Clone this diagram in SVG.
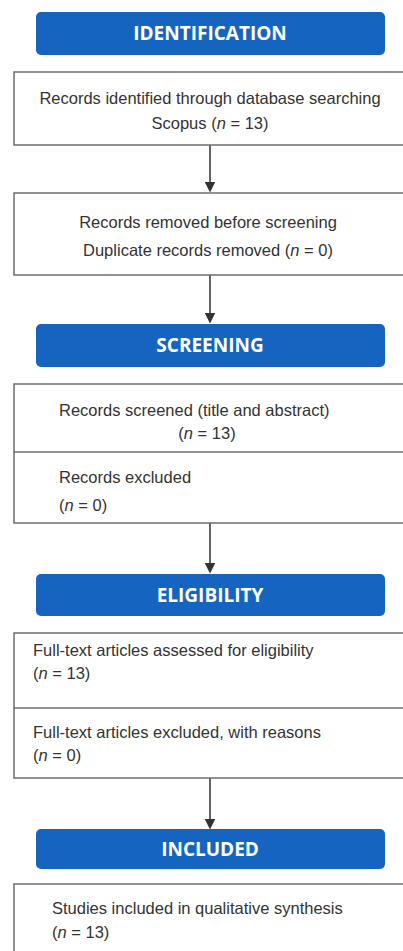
<svg xmlns="http://www.w3.org/2000/svg" width="403" height="951" viewBox="0 0 403 951">
<defs>
<style>
.hdr{fill:#1565c0;}
.ht{fill:#ffffff;font-family:"Open Sans","Liberation Sans",sans-serif;font-weight:bold;font-size:19px;text-anchor:middle;}
.box{fill:#ffffff;stroke:#6e6e6e;stroke-width:1.5;}
.div{stroke:#6e6e6e;stroke-width:1.5;}
.t{fill:#333333;font-family:"Liberation Sans",sans-serif;font-size:16.5px;}
.c{text-anchor:middle;}
.conn{stroke:#333333;stroke-width:1.5;fill:none;marker-end:url(#ah);}
</style>
<marker id="ah" markerWidth="11" markerHeight="11" refX="5.5" refY="5.5" orient="auto" markerUnits="userSpaceOnUse">
<path d="M0,0 L11,5.5 L0,11 z" fill="#333333"/>
</marker>
</defs>
<rect width="403" height="951" fill="#ffffff"/>
<g id="connectors">
<line class="conn" x1="210" y1="145" x2="210" y2="187"/>
<line class="conn" x1="210" y1="275" x2="210" y2="318"/>
<line class="conn" x1="210" y1="523" x2="210" y2="568"/>
<line class="conn" x1="210" y1="778" x2="210" y2="824"/>
</g>
<g id="hdr-identification">
<rect class="hdr" x="36" y="12" width="349" height="43" rx="5"/>
<text class="ht" x="210" y="40">IDENTIFICATION</text>
</g>
<g id="box-identified">
<rect class="box" x="14" y="72" width="400" height="73"/>
<text class="t c" x="210" y="104">Records identified through database searching</text>
<text class="t c" x="210" y="129">Scopus (<tspan font-style="italic">n</tspan> = 13)</text>
</g>
<g id="box-removed">
<rect class="box" x="14" y="193" width="400" height="82"/>
<text class="t c" x="208" y="228">Records removed before screening</text>
<text class="t c" x="208" y="256">Duplicate records removed (<tspan font-style="italic">n</tspan> = 0)</text>
</g>
<g id="hdr-screening">
<rect class="hdr" x="36" y="324" width="349" height="43" rx="5"/>
<text class="ht" x="210" y="352">SCREENING</text>
</g>
<g id="box-screened">
<rect class="box" x="14" y="384" width="400" height="139"/>
<line class="div" x1="14" y1="452" x2="403" y2="452"/>
<text class="t" x="59" y="416">Records screened (title and abstract)</text>
<text class="t c" x="207" y="439">(<tspan font-style="italic">n</tspan> = 13)</text>
<text class="t" x="59" y="483">Records excluded</text>
<text class="t" x="59" y="511">(<tspan font-style="italic">n</tspan> = 0)</text>
</g>
<g id="hdr-eligibility">
<rect class="hdr" x="36" y="574" width="349" height="42" rx="5"/>
<text class="ht" x="210" y="602">ELIGIBILITY</text>
</g>
<g id="box-fulltext">
<rect class="box" x="14" y="633" width="400" height="145"/>
<line class="div" x1="14" y1="708" x2="403" y2="708"/>
<text class="t" x="33" y="656">Full-text articles assessed for eligibility</text>
<text class="t" x="33" y="679">(<tspan font-style="italic">n</tspan> = 13)</text>
<text class="t" x="33" y="738">Full-text articles excluded, with reasons</text>
<text class="t" x="33" y="761">(<tspan font-style="italic">n</tspan> = 0)</text>
</g>
<g id="hdr-included">
<rect class="hdr" x="36" y="829" width="349" height="40" rx="5"/>
<text class="ht" x="210" y="856">INCLUDED</text>
</g>
<g id="box-included">
<rect class="box" x="14" y="884" width="400" height="80"/>
<text class="t" x="52" y="914">Studies included in qualitative synthesis</text>
<text class="t" x="52" y="938">(<tspan font-style="italic">n</tspan> = 13)</text>
</g>
</svg>
